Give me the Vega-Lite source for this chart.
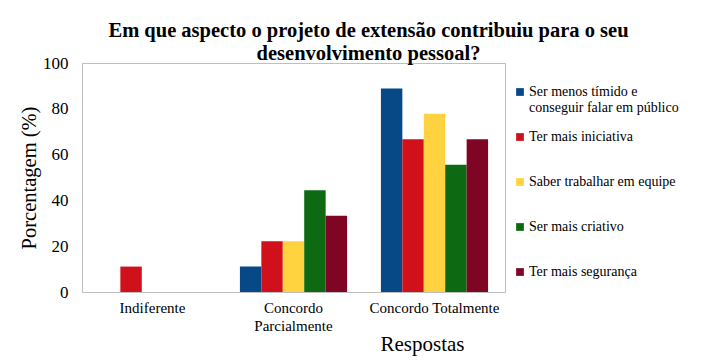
{
  "$schema": "https://vega.github.io/schema/vega-lite/v6.json",
  "autosize": "none",
  "width": 423,
  "height": 229,
  "padding": {"left": 82, "top": 63, "right": 212, "bottom": 72},
  "background": "white",
  "title": {
    "text": ["Em que aspecto o projeto de extensão contribuiu para o seu", "desenvolvimento pessoal?"],
    "font": "Liberation Serif",
    "fontSize": 20.5,
    "fontWeight": "bold",
    "color": "black",
    "anchor": "middle",
    "frame": "group",
    "dx": 75,
    "offset": -10,
    "lineHeight": 23
  },
  "data": {
    "values": [
      {"resposta": "Indiferente", "aspecto": "Ser menos tímido e conseguir falar em público", "pct": 0},
      {"resposta": "Indiferente", "aspecto": "Ter mais iniciativa", "pct": 11.1},
      {"resposta": "Indiferente", "aspecto": "Saber trabalhar em equipe", "pct": 0},
      {"resposta": "Indiferente", "aspecto": "Ser mais criativo", "pct": 0},
      {"resposta": "Indiferente", "aspecto": "Ter mais segurança", "pct": 0},
      {"resposta": "Concordo Parcialmente", "aspecto": "Ser menos tímido e conseguir falar em público", "pct": 11.1},
      {"resposta": "Concordo Parcialmente", "aspecto": "Ter mais iniciativa", "pct": 22.2},
      {"resposta": "Concordo Parcialmente", "aspecto": "Saber trabalhar em equipe", "pct": 22.2},
      {"resposta": "Concordo Parcialmente", "aspecto": "Ser mais criativo", "pct": 44.4},
      {"resposta": "Concordo Parcialmente", "aspecto": "Ter mais segurança", "pct": 33.3},
      {"resposta": "Concordo Totalmente", "aspecto": "Ser menos tímido e conseguir falar em público", "pct": 88.9},
      {"resposta": "Concordo Totalmente", "aspecto": "Ter mais iniciativa", "pct": 66.7},
      {"resposta": "Concordo Totalmente", "aspecto": "Saber trabalhar em equipe", "pct": 77.8},
      {"resposta": "Concordo Totalmente", "aspecto": "Ser mais criativo", "pct": 55.6},
      {"resposta": "Concordo Totalmente", "aspecto": "Ter mais segurança", "pct": 66.7}
    ]
  },
  "mark": {"type": "bar"},
  "encoding": {
    "x": {
      "field": "resposta",
      "type": "nominal",
      "sort": ["Indiferente", "Concordo Parcialmente", "Concordo Totalmente"],
      "scale": {"paddingInner": 0.24, "paddingOuter": 0.12},
      "axis": {
        "title": "Respostas",
        "titleFont": "Liberation Serif",
        "titleFontSize": 21,
        "titleFontWeight": "normal",
        "titleColor": "black",
        "titleX": 340,
        "titleY": 58,
        "titleAlign": "center",
        "titleBaseline": "alphabetic",
        "labelAngle": 0,
        "labelFont": "Liberation Serif",
        "labelFontSize": 15,
        "labelColor": "black",
        "labelPadding": 8,
        "labelLineHeight": 18,
        "labelExpr": "datum.label == 'Concordo Parcialmente' ? ['Concordo', 'Parcialmente'] : datum.label",
        "ticks": false,
        "domain": false
      }
    },
    "xOffset": {
      "field": "aspecto",
      "type": "nominal",
      "sort": ["Ser menos tímido e conseguir falar em público", "Ter mais iniciativa", "Saber trabalhar em equipe", "Ser mais criativo", "Ter mais segurança"],
      "scale": {"paddingInner": 0, "paddingOuter": 0}
    },
    "y": {
      "field": "pct",
      "type": "quantitative",
      "scale": {"domain": [0, 100]},
      "axis": {
        "title": "Porcentagem (%)",
        "titleFont": "Liberation Serif",
        "titleFontSize": 20.5,
        "titleFontWeight": "normal",
        "titleColor": "black",
        "titlePadding": 3,
        "values": [0, 20, 40, 60, 80, 100],
        "labelFont": "Liberation Serif",
        "labelFontSize": 17,
        "labelColor": "black",
        "labelPadding": 14,
        "ticks": false,
        "domain": false,
        "grid": false
      }
    },
    "color": {
      "field": "aspecto",
      "type": "nominal",
      "sort": ["Ser menos tímido e conseguir falar em público", "Ter mais iniciativa", "Saber trabalhar em equipe", "Ser mais criativo", "Ter mais segurança"],
      "scale": {
        "domain": ["Ser menos tímido e conseguir falar em público", "Ter mais iniciativa", "Saber trabalhar em equipe", "Ser mais criativo", "Ter mais segurança"],
        "range": ["#074886", "#D0101A", "#FFD23F", "#0E6A12", "#7E0524"]
      },
      "legend": {
        "title": null,
        "orient": "none",
        "legendX": 431,
        "legendY": 22,
        "symbolType": "square",
        "symbolSize": 60,
        "symbolStrokeWidth": 0,
        "labelFont": "Liberation Serif",
        "labelFontSize": 14,
        "labelColor": "black",
        "labelLimit": 220,
        "labelOffset": 2,
        "labelBaseline": "top",
        "labelLineHeight": 16,
        "rowPadding": 15,
        "labelExpr": "datum.label == 'Ser menos tímido e conseguir falar em público' ? ['Ser menos tímido e', 'conseguir falar em público'] : [datum.label, '']",
        "encode": {"labels": {"update": {"dy": {"value": -7}, "font": {"value": "Liberation Serif"}}}}
      }
    }
  },
  "config": {
    "font": "Liberation Serif",
    "title": {"font": "Liberation Serif"},
    "legend": {"labelFont": "Liberation Serif"},
    "view": {"stroke": "#BFBFBF", "strokeWidth": 1}
  }
}
